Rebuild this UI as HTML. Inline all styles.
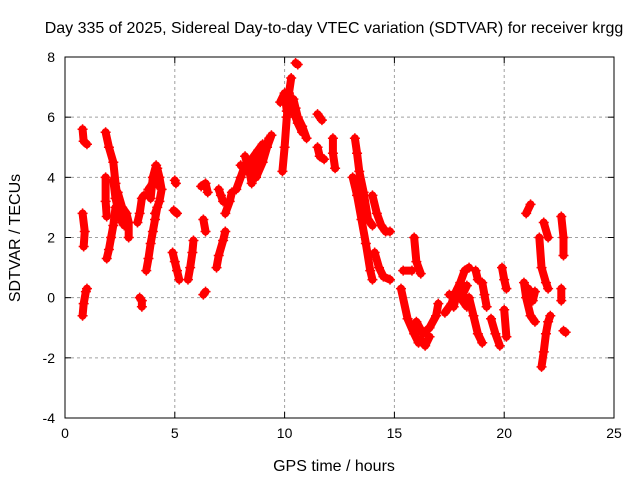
<!DOCTYPE html>
<html><head><meta charset="utf-8"><style>
body{margin:0;background:#fff;}
svg{font-family:"Liberation Sans",sans-serif;}
</style></head><body>
<svg id="chart" width="640" height="480" xmlns="http://www.w3.org/2000/svg">
<rect width="640" height="480" fill="#fff"/>
<text x="334" y="33" font-size="16" text-anchor="middle">Day 335 of 2025, Sidereal Day-to-day VTEC variation (SDTVAR) for receiver krgg</text>
<text x="334" y="471" font-size="16" text-anchor="middle">GPS time / hours</text>
<text transform="translate(20,238) rotate(-90)" font-size="16" text-anchor="middle">SDTVAR / TECUs</text>
<g id="grid"></g><g id="ticks"></g><g id="marks"></g>
<rect x="65" y="57" width="549" height="361" fill="none" stroke="#000" stroke-width="1"/>
</svg>
<script>
const xTicks=[0,5,10,15,20,25];
const yTicks=[-4,-2,0,2,4,6,8];
const arcs=[
[[0.8,5.6],[0.85,5.2],[1.0,5.1]],
[[0.8,2.8],[0.9,2.2],[0.85,1.7]],
[[0.8,-0.6],[0.85,-0.2],[0.95,0.2],[1.0,0.3]],
[[1.85,5.5],[2.0,5.0],[2.2,4.5],[2.3,3.8],[2.4,3.3],[2.5,2.8],[2.6,2.5]],
[[1.85,4.0],[1.85,3.2],[1.9,2.7]],
[[1.9,1.3],[2.0,1.6],[2.1,2.0],[2.2,2.4],[2.3,3.0]],
[[2.4,3.5],[2.6,3.0],[2.8,2.8],[2.9,2.5],[2.9,2.0]],
[[2.2,3.9],[2.3,3.3],[2.5,2.7],[2.7,2.4]],
[[3.4,0.0],[3.5,-0.1],[3.5,-0.3]],
[[3.3,2.5],[3.4,2.8],[3.5,3.3],[3.6,3.4]],
[[3.7,0.9],[3.8,1.3],[3.9,1.8],[4.0,2.2],[4.1,2.6],[4.2,3.0]],
[[3.8,3.6],[4.0,3.8],[4.2,4.3],[4.3,4.0],[4.4,3.6],[4.3,3.2],[4.1,2.8]],
[[3.9,3.3],[4.0,4.0],[4.15,4.4],[4.3,3.7]],
[[5.0,3.9],[5.05,3.8]],
[[4.95,2.9],[5.1,2.8]],
[[4.9,1.5],[5.0,1.2],[5.1,0.9],[5.2,0.6]],
[[5.6,0.6],[5.7,1.0],[5.8,1.5],[5.85,1.9]],
[[6.2,3.7],[6.4,3.8],[6.5,3.5]],
[[6.3,2.6],[6.4,2.2]],
[[6.3,0.1],[6.4,0.2]],
[[7.0,3.6],[7.1,3.4],[7.2,3.2]],
[[6.9,1.0],[7.0,1.4],[7.2,1.9],[7.3,2.2]],
[[7.3,2.8],[7.5,3.2],[7.6,3.5]],
[[7.8,3.6],[8.0,4.0],[8.2,4.4],[8.5,4.6],[8.8,4.9],[9.0,5.1]],
[[8.2,4.7],[8.4,4.2],[8.5,3.8]],
[[8.0,4.4],[8.3,4.2],[8.6,4.3],[8.9,4.7],[9.3,5.3]],
[[8.7,4.0],[9.0,4.5],[9.2,5.0],[9.4,5.4]],
[[9.9,4.2],[10.0,5.0],[10.1,6.0],[10.2,6.8],[10.3,7.3]],
[[9.8,6.5],[10.0,6.8],[10.1,6.2]],
[[10.5,7.8],[10.6,7.75]],
[[10.4,6.6],[10.5,6.3],[10.6,6.0],[10.8,5.7],[11.0,5.3]],
[[10.4,6.2],[10.6,5.8],[10.8,5.5]],
[[11.5,6.1],[11.7,5.9]],
[[11.5,5.0],[11.6,4.7],[11.8,4.6]],
[[12.2,5.3],[12.2,4.8],[12.3,4.3]],
[[13.1,4.0],[13.3,3.4],[13.5,2.6],[13.7,1.8],[13.9,0.9],[14.0,0.6]],
[[13.2,5.3],[13.3,4.8],[13.4,4.2],[13.6,3.5],[13.8,2.6],[14.0,2.4]],
[[14.0,3.4],[14.2,2.8],[14.4,2.4],[14.6,2.2],[14.8,2.2]],
[[14.1,1.5],[14.3,1.0],[14.5,0.7],[14.8,0.6]],
[[15.4,0.9],[15.8,0.9]],
[[15.9,2.0],[16.0,1.2],[16.2,0.8]],
[[15.3,0.3],[15.6,-0.7],[15.9,-1.2],[16.1,-1.5]],
[[16.0,-0.8],[16.3,-1.2],[16.6,-1.0],[16.9,-0.6],[17.0,-0.2]],
[[16.2,-1.4],[16.4,-1.6],[16.6,-1.3]],
[[17.3,-0.5],[17.6,-0.2],[17.8,0.2],[18.0,0.5],[18.2,0.9],[18.4,1.0]],
[[17.5,0.1],[18.0,0.0],[18.3,-0.3]],
[[17.7,-0.3],[17.9,0.3],[18.1,0.1],[18.3,0.4]],
[[18.7,0.9],[18.8,0.6]],
[[18.4,0.0],[18.6,-0.6],[18.8,-1.2],[19.0,-1.5]],
[[19.0,0.5],[19.1,0.1],[19.2,-0.3]],
[[19.4,-0.7],[19.6,-1.2],[19.8,-1.6]],
[[19.9,1.0],[20.0,0.6],[20.1,0.3]],
[[20.0,-0.4],[20.1,-1.3]],
[[21.0,2.8],[21.2,3.1]],
[[20.9,0.5],[21.0,0.0],[21.2,-0.6],[21.4,-0.8]],
[[21.1,0.3],[21.3,-0.1],[21.4,0.2]],
[[21.6,2.0],[21.7,1.0],[21.9,0.5],[22.0,0.3]],
[[21.8,2.5],[22.0,2.0]],
[[21.7,-2.3],[21.8,-1.8],[21.9,-1.2],[22.0,-0.8],[22.1,-0.6]],
[[22.6,2.7],[22.7,2.0],[22.7,1.4]],
[[22.6,0.3],[22.6,-0.1]],
[[22.7,-1.1],[22.8,-1.15]]
];
const L=65,R=614,T=57,B=418;
const xs=v=>L+(v-0)/25*(R-L);
const ys=v=>B-(v+4)/12*(B-T);
const NS='http://www.w3.org/2000/svg';
const grid=document.getElementById('grid'),ticks=document.getElementById('ticks'),marks=document.getElementById('marks');
function mk(t,a,p){const e=document.createElementNS(NS,t);for(const k in a)e.setAttribute(k,a[k]);p.appendChild(e);return e;}
xTicks.forEach(v=>{const x=xs(v);
 if(v>0&&v<25){const g=mk('line',{x1:x,x2:x,y1:T,y2:B,stroke:'#a0a0a0','stroke-dasharray':'3,3'},grid);
 
 }
 mk('line',{x1:x,x2:x,y1:B,y2:B-6,stroke:'#000'},ticks);mk('line',{x1:x,x2:x,y1:T,y2:T+6,stroke:'#000'},ticks);
 const t=mk('text',{x:x,y:B+20,'font-size':14,'text-anchor':'middle'},ticks);t.textContent=v;
 
 });
yTicks.forEach(v=>{const y=ys(v);
 if(v>-4&&v<8){const g=mk('line',{x1:L,x2:R,y1:y,y2:y,stroke:'#a0a0a0','stroke-dasharray':'3,3'},grid);
 
 }
 mk('line',{x1:L,x2:L+6,y1:y,y2:y,stroke:'#000'},ticks);mk('line',{x1:R,x2:R-6,y1:y,y2:y,stroke:'#000'},ticks);
 const t=mk('text',{x:L-10,y:y+5,'font-size':14,'text-anchor':'end'},ticks);t.textContent=v;
 
 });
arcs.forEach(a=>{
 const g=mk('g',{},marks);
 
 
 mk('polyline',{points:a.map(p=>xs(p[0])+','+ys(p[1])).join(' '),fill:'none',stroke:'#f00','stroke-width':8,'stroke-linejoin':'round','stroke-linecap':'round'},g);
 a.forEach(p=>{const x=xs(p[0]),y=ys(p[1]);
  mk('path',{d:`M${x-5},${y}H${x+5}M${x},${y-5}V${y+5}`,stroke:'#f00','stroke-width':1.5},g);});
});
</script>
</body></html>
